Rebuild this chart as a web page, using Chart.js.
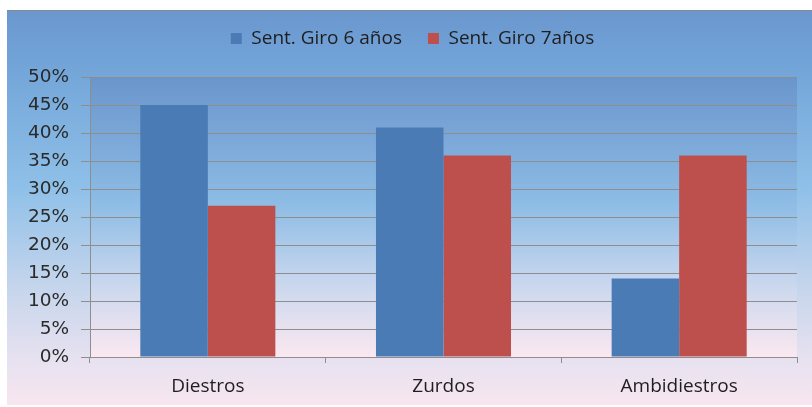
<!DOCTYPE html>
<html>
<head>
<meta charset="utf-8">
<script src="https://cdn.jsdelivr.net/npm/chart.js@4.4.1/dist/chart.umd.min.js"></script>
<style>
  html, body { margin: 0; padding: 0; background: #fff; }
  #wrap { width: 812px; height: 407px; }
</style>
</head>
<body>
<div id="wrap"><canvas id="chart" width="812" height="407"></canvas></div>
<script>
/* ─── Data ───────────────────────────────────────────────────────────────── */
const categories  = ['Diestros', 'Zurdos', 'Ambidiestros'];
const giro6       = [45, 41, 14];
const giro7       = [27, 36, 36];
const seriesNames = ['Sent. Giro 6 años', 'Sent. Giro 7años'];
const yTicks      = [0, 5, 10, 15, 20, 25, 30, 35, 40, 45, 50];

/* ─── Backgrounds + legend nudge ─────────────────────────────────────────── */
const backdrop = {
  id: 'backdrop',
  afterInit(chart) {
    const lg = chart.legend;
    if (!lg) return;
    // extra room between legend and plot, and shift legend a bit right/down
    const fit = lg.fit;
    lg.fit = function () { fit.call(this); this.height += 21; };
    const draw = lg.draw;
    lg.draw = function (area) {
      const c = this.ctx;
      c.save();
      c.translate(14, 2);
      draw.call(this, area);
      c.restore();
    };
  },
  beforeDraw(chart) {
    const { ctx, width, height, chartArea: a } = chart;
    ctx.save();
    ctx.fillStyle = '#fff';
    ctx.fillRect(0, 0, width, height);

    const g = ctx.createLinearGradient(0, 10, 0, 405);
    g.addColorStop(0,    '#6a97ce');
    g.addColorStop(0.15, '#73a5d9');
    g.addColorStop(0.45, '#8fc0e8');
    g.addColorStop(0.7,  '#c5d5ec');
    g.addColorStop(0.88, '#e6e1f0');
    g.addColorStop(1,    '#f7e6ef');
    ctx.fillStyle = g;
    ctx.fillRect(7, 10, width - 7, 395);
    ctx.fillStyle = '#8a8a8a';
    ctx.fillRect(7, 10, width - 7, 1);

    const p = ctx.createLinearGradient(0, a.top, 0, a.bottom);
    p.addColorStop(0,    '#6a95cc');
    p.addColorStop(0.45, '#8dbce5');
    p.addColorStop(0.75, '#cbd8ee');
    p.addColorStop(1,    '#fbe8f0');
    ctx.fillStyle = p;
    ctx.fillRect(a.left, a.top, a.right - a.left, a.bottom - a.top);
    ctx.restore();
  }
};

/* ─── Chart ──────────────────────────────────────────────────────────────── */
new Chart(document.getElementById('chart'), {
  type: 'bar',
  data: {
    labels: categories,
    datasets: [
      { label: seriesNames[0], data: giro6, backgroundColor: '#4a7bb5' },
      { label: seriesNames[1], data: giro7, backgroundColor: '#bd4f4c' }
    ]
  },
  options: {
    responsive: false,
    animation: false,
    layout: { padding: { left: 0, right: 15, top: 1, bottom: 0 } },
    categoryPercentage: 0.573,
    barPercentage: 1,
    plugins: {
      tooltip: { enabled: false },
      legend: {
        position: 'top',
        labels: {
          boxWidth: 11,
          boxHeight: 11,
          padding: 26,
          color: '#1e1e1e',
          font: { family: 'Open Sans', size: 19 }
        }
      }
    },
    scales: {
      x: {
        afterFit: s => { s.height = 50; },
        grid: { offset: true, drawOnChartArea: false, color: '#8e8e8e', tickLength: 6 },
        border: { color: '#8e8e8e' },
        ticks: { color: '#1e1e1e', padding: 12, font: { family: 'Open Sans', size: 19 } }
      },
      y: {
        min: 0,
        max: 50,
        afterFit: s => { s.width = 90; },
        afterBuildTicks: s => { s.ticks = yTicks.map(v => ({ value: v })); },
        grid: { color: '#8e8e8e', tickLength: 9 },
        border: { color: '#8e8e8e' },
        ticks: {
          color: '#2a2a2a',
          padding: 12,
          font: { family: 'DejaVu Sans', size: 18.5 },
          callback: v => v + '%'
        }
      }
    }
  },
  plugins: [backdrop]
});
</script>
</body>
</html>
